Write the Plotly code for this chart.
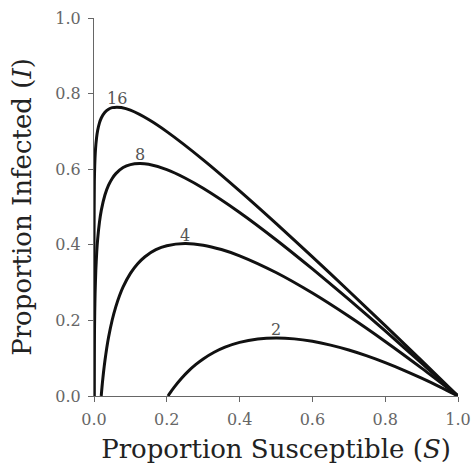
import plotly.graph_objects as go

# Epidemic trajectories in the (S, I) phase plane for several values of R0.
# Each curve runs from S = 1 (no infection) to the final susceptible fraction.
r0_values = [2, 4, 8, 16]

s_r2 = [0.2032, 0.21, 0.22, 0.24, 0.26, 0.28, 0.30, 0.33, 0.36, 0.40, 0.45, 0.50,
        0.55, 0.60, 0.65, 0.70, 0.75, 0.80, 0.85, 0.90, 0.95, 1.00]
i_r2 = [0.0, 0.0097, 0.0229, 0.0464, 0.0665, 0.0835, 0.0980, 0.1157, 0.1292, 0.1419,
        0.1507, 0.1534, 0.1511, 0.1446, 0.1346, 0.1217, 0.1062, 0.0884, 0.0687,
        0.0473, 0.0244, 0.0]

s_r4 = [0.01982, 0.021, 0.023, 0.026, 0.03, 0.035, 0.04, 0.05, 0.06, 0.07, 0.08,
        0.10, 0.12, 0.14, 0.17, 0.20, 0.25, 0.30, 0.35, 0.40, 0.50, 0.60, 0.70,
        0.80, 0.90, 1.00]
i_r4 = [0.0, 0.0132, 0.0339, 0.0616, 0.0934, 0.1269, 0.1553, 0.2011, 0.2366, 0.2652,
        0.2886, 0.3244, 0.3499, 0.3685, 0.3870, 0.3976, 0.4034, 0.3990, 0.3875,
        0.3709, 0.3267, 0.2723, 0.2108, 0.1442, 0.0737, 0.0]

s_r8 = [0.000336, 0.0005, 0.001, 0.002, 0.003, 0.005, 0.0075, 0.01, 0.015, 0.02,
        0.03, 0.04, 0.05, 0.06, 0.08, 0.10, 0.125, 0.15, 0.20, 0.25, 0.30, 0.40,
        0.50, 0.60, 0.70, 0.80, 0.90, 1.00]
i_r8 = [0.0, 0.0494, 0.1355, 0.2212, 0.2709, 0.3327, 0.3809, 0.4144, 0.4600, 0.4910,
        0.5317, 0.5576, 0.5755, 0.5883, 0.6043, 0.6122, 0.6151, 0.6129, 0.5988,
        0.5767, 0.5495, 0.4855, 0.4134, 0.3361, 0.2554, 0.1721, 0.0868, 0.0]

s_r16 = [1.13e-7, 1e-6, 1e-5, 1e-4, 0.001, 0.002, 0.004, 0.007, 0.01, 0.015, 0.02,
         0.03, 0.04, 0.05, 0.0625, 0.075, 0.10, 0.15, 0.20, 0.30, 0.40, 0.50, 0.60,
         0.70, 0.80, 0.90, 1.00]
i_r16 = [0.0, 0.1365, 0.2804, 0.4243, 0.5673, 0.6096, 0.6509, 0.6829, 0.7022, 0.7225,
         0.7355, 0.7508, 0.7588, 0.7628, 0.7642, 0.7631, 0.7561, 0.7314, 0.6994,
         0.6248, 0.5427, 0.4567, 0.3681, 0.2777, 0.1861, 0.0934, 0.0]

curves = [(s_r2, i_r2), (s_r4, i_r4), (s_r8, i_r8), (s_r16, i_r16)]

tick_vals = [0.0, 0.2, 0.4, 0.6, 0.8, 1.0]
tick_text = ["0.0", "0.2", "0.4", "0.6", "0.8", "1.0"]

SERIF = "DejaVu Serif"

fig = go.Figure()
for r0, (s, i) in zip(r0_values, curves):
    fig.add_trace(go.Scatter(
        x=s, y=i, mode="lines",
        line=dict(color="#111111", width=3, shape="spline", smoothing=0.6),
        showlegend=False, hoverinfo="skip",
    ))
    # label each curve at its peak
    k = i.index(max(i))
    fig.add_annotation(
        x=s[k], y=i[k], text=str(r0), showarrow=False,
        xanchor="center", yanchor="bottom", yshift=-3,
        font=dict(family=SERIF, size=16, color="#555555"),
    )

axis_common = dict(
    range=[0, 1], tickvals=tick_vals, ticktext=tick_text, automargin=False,
    showgrid=False, zeroline=False, showline=True, linecolor="#666666", linewidth=1,
    ticks="outside", ticklen=5, tickcolor="#666666", ticklabelstandoff=4,
    tickfont=dict(family=SERIF, size=16, color="#666666"),
)

fig.update_layout(
    width=472, height=474,
    margin=dict(l=94, r=14, t=18, b=78),
    paper_bgcolor="white", plot_bgcolor="white",
    xaxis=dict(**axis_common,
               title=dict(text="Proportion Susceptible (<i>S</i>)",
                          font=dict(family=SERIF, size=26, color="#222222"),
                          standoff=11)),
    yaxis=dict(**axis_common,
               title=dict(text="Proportion Infected (<i>I</i>)",
                          font=dict(family=SERIF, size=26, color="#222222"),
                          standoff=16)),
)

fig.write_html("out.html")
